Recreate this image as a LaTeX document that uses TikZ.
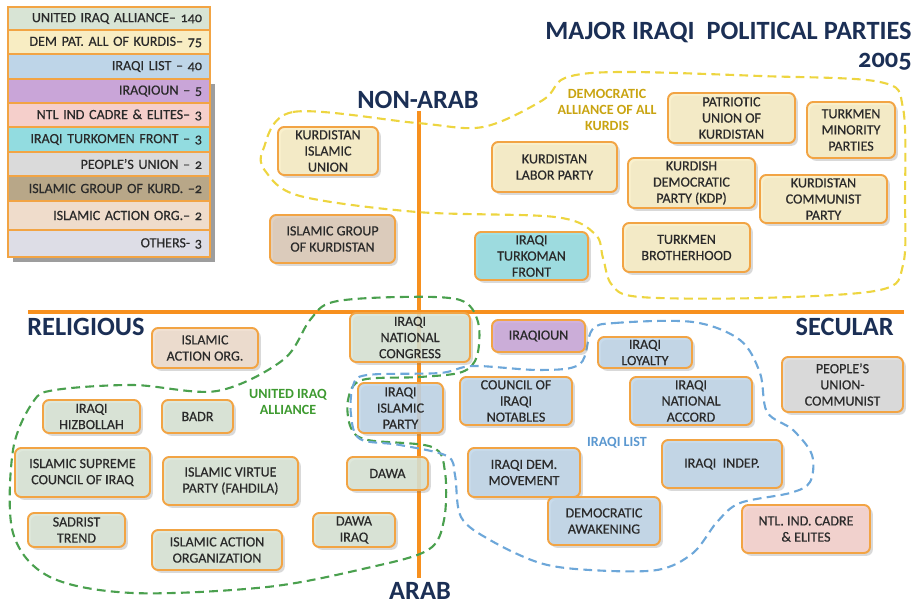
\documentclass[tikz,border=0pt]{standalone}
\usepackage{fontspec}
\setmainfont{Carlito}[Numbers=OldStyle]
\usetikzlibrary{shadows}
\definecolor{navy}{HTML}{1B2F55}
\definecolor{axisorange}{HTML}{F7901E}
\definecolor{boxedge}{HTML}{F2A444}
\definecolor{partytext}{HTML}{2A2A2A}
\definecolor{uiafill}{HTML}{D8E4D5}
\definecolor{kurdfill}{HTML}{F8EDC3}
\definecolor{listfill}{HTML}{BED5E8}
\definecolor{iqnfill}{HTML}{C9A5D8}
\definecolor{ntlfill}{HTML}{F5CFCB}
\definecolor{itffill}{HTML}{92DCE0}
\definecolor{pplfill}{HTML}{DADADA}
\definecolor{igkfill}{HTML}{DCC9B6}
\definecolor{igklegend}{HTML}{B8A788}
\definecolor{iaofill}{HTML}{EFDCCB}
\definecolor{otherfill}{HTML}{DDDDE6}
\definecolor{kurdline}{HTML}{EDD540}
\definecolor{kurdgold}{HTML}{C9A411}
\definecolor{uialine}{HTML}{4AA04E}
\definecolor{uiagreen}{HTML}{3E9A30}
\definecolor{listline}{HTML}{6DA7D9}
\definecolor{listblue}{HTML}{5B98D0}
\newcommand\boxfont{\fontsize{8}{9.2}\selectfont\addfontfeatures{FakeBold=0.5}}
\begin{document}
\begin{tikzpicture}[x=0.02cm,y=-0.02cm,
    sz/.style 2 args={minimum width=#1*0.02cm,minimum height=#2*0.02cm},
    party/.style={draw=boxedge,line width=1.1pt,rounded corners=3.5pt,align=center,
      inner sep=0pt,text=partytext,fill opacity=0.85,text opacity=1,font=\boxfont,
      drop shadow={shadow xshift=1.6pt,shadow yshift=-1.6pt,opacity=0.3}},
    legrow/.style={draw=boxedge,line width=0.9pt,minimum width=202*0.02cm,inner sep=0pt,
      text width=186*0.02cm,align=right,text=partytext,font=\boxfont},
    axislabel/.style={text=navy,font=\bfseries\fontsize{15}{17}\selectfont,inner sep=0pt},
    grouplabel/.style={align=center,inner sep=0pt,font=\bfseries\fontsize{8}{9.2}\selectfont},
    loop/.style={line width=1.2pt,dash pattern=on 5pt off 3pt}]
  \useasboundingbox (0,0) rectangle (919,604);
  %
  % legend
  \fill[black!70,opacity=0.55] (13,84) rectangle (215,262); % shadow
  \foreach \ya/\yb/\col/\txt [count=\i] in {
      7/30/uiafill/UNITED IRAQ ALLIANCE– 140,
      30/54/kurdfill/DEM PAT. ALL OF KURDIS– 75,
      54/79/listfill/IRAQI LIST – 40,
      79/103/iqnfill/IRAQIOUN – 5,
      103/127/ntlfill/NTL IND CADRE \& ELITES– 3,
      127/152/itffill/IRAQI TURKOMEN FRONT – 3,
      152/176/pplfill/PEOPLE’S UNION – 2,
      176/201/igklegend/ISLAMIC GROUP OF KURD. –2,
      201/230/iaofill/ISLAMIC ACTION ORG.– 2,
      230/257/otherfill/OTHERS- 3}
    \node[legrow,fill=\col,minimum height=(\yb-\ya)*0.02cm] (leg\i) at (109,{(\ya+\yb)/2}) {\txt};
  %
  % title
  \node[axislabel,anchor=east] (title) at (912,33) {MAJOR IRAQI\ \ POLITICAL PARTIES};
  \node[axislabel,anchor=east] (year) at (912,62) {2005};
  %
  % axes
  \draw[axisorange,line width=2.4pt] (28,312) -- (904,312);
  \draw[axisorange,line width=2.4pt] (419,111) -- (419,578);
  \node[axislabel] (nonarab) at (418,100) {NON-ARAB};
  \node[axislabel] (arab) at (420,591) {ARAB};
  \node[axislabel,anchor=west] (religious) at (27,327) {RELIGIOUS};
  \node[axislabel,anchor=east] (secular) at (894,327) {SECULAR};
  %
  % group outlines
  \draw[loop,kurdline] plot[smooth cycle,tension=0.55] coordinates {
    (263,150) (293,112) (417,123) (483,127) (543,100) (565,78) (620,72) (760,76)
    (880,82) (903,108) (905,200) (903,265) (880,290) (760,298) (640,297) (612,285)
    (603,258) (595,234) (555,217) (417,212) (300,196) (266,172)};
  \draw[loop,uialine] plot[smooth cycle,tension=0.55] coordinates {
    (333,302) (400,297) (460,300) (478,322) (477,356) (462,372) (420,377) (362,380)
    (348,400) (351,428) (368,440) (432,447) (445,472) (444,520) (428,550) (367,568)
    (267,587) (133,593) (50,577) (13,533) (13,450) (33,402) (55,390) (133,385)
    (217,391) (283,360) (310,320)};
  \draw[loop,listline] plot[smooth cycle,tension=0.55] coordinates {
    (592,330) (615,323) (693,322) (740,340) (760,373) (767,412) (793,430) (812,455)
    (810,482) (790,493) (740,503) (717,522) (693,553) (657,570) (590,570) (540,563)
    (490,540) (461,517) (455,475) (447,456) (400,445) (360,439) (351,415) (353,386)
    (367,375) (440,373) (473,366) (540,370) (580,364)};
  \node[grouplabel,text=kurdgold] (kurdlabel) at (607,110) {DEMOCRATIC\\ALLIANCE OF ALL\\KURDIS};
  \node[grouplabel,text=uiagreen] (uialabel) at (288,402) {UNITED IRAQ\\ALLIANCE};
  \node[grouplabel,text=listblue] (listlabel) at (617,443) {IRAQI LIST};
  %
  % kurdish alliance
  \node[party,fill=kurdfill,sz={100}{48}] (kiu) at (328,151) {KURDISTAN\\ISLAMIC\\UNION};
  \node[party,fill=kurdfill,sz={125}{50}] (klp) at (554.5,167) {KURDISTAN\\LABOR PARTY};
  \node[party,fill=kurdfill,sz={127}{50}] (puk) at (731.5,118) {PATRIOTIC\\UNION OF\\KURDISTAN};
  \node[party,fill=kurdfill,sz={88}{56}] (tmp) at (851,130) {TURKMEN\\MINORITY\\PARTIES};
  \node[party,fill=kurdfill,sz={127}{50}] (kdp) at (691.5,183) {KURDISH\\DEMOCRATIC\\PARTY (KDP)};
  \node[party,fill=kurdfill,sz={127}{48}] (kcp) at (823.5,199) {KURDISTAN\\COMMUNIST\\PARTY};
  \node[party,fill=kurdfill,sz={127}{49}] (tbh) at (686.5,247.5) {TURKMEN\\BROTHERHOOD};
  \node[party,fill=igkfill,sz={125}{48}] (igk) at (332.5,239) {ISLAMIC GROUP\\OF KURDISTAN};
  \node[party,fill=itffill,sz={113}{48}] (itf) at (531.5,256) {IRAQI\\TURKOMAN\\FRONT};
  %
  % united iraq alliance
  \node[party,fill=iaofill,sz={106}{40}] (iao) at (205,348) {ISLAMIC\\ACTION ORG.};
  \node[party,fill=uiafill,sz={120}{49}] (inc) at (410,337.5) {IRAQI\\NATIONAL\\CONGRESS};
  \node[party,fill=uiafill,sz={97}{33}] (hiz) at (91.5,416.5) {IRAQI\\HIZBOLLAH};
  \node[party,fill=uiafill,sz={71}{33}] (badr) at (197.5,416.5) {BADR};
  \node[party,fill=uiafill,sz={135}{49}] (sciri) at (82.5,472.5) {ISLAMIC SUPREME\\COUNCIL OF IRAQ};
  \node[party,fill=uiafill,sz={135}{48}] (fad) at (230.5,481) {ISLAMIC VIRTUE\\PARTY (FAHDILA)};
  \node[party,fill=uiafill,sz={81}{33}] (dawa) at (387.5,473.5) {DAWA};
  \node[party,fill=uiafill,sz={97}{34}] (sadr) at (76.5,530) {SADRIST\\TREND};
  \node[party,fill=uiafill,sz={130}{40}] (iaorg) at (217,550) {ISLAMIC ACTION\\ORGANIZATION};
  \node[party,fill=uiafill,sz={82}{34}] (dawai) at (354,530) {DAWA\\IRAQ};
  %
  % iraqi list
  \node[party,fill=listfill,sz={85}{50}] (iip) at (400.5,408) {IRAQI\\ISLAMIC\\PARTY};
  \node[party,fill=listfill,sz={94}{31}] (loy) at (645,352.5) {IRAQI\\LOYALTY};
  \node[party,fill=listfill,sz={112}{48}] (cin) at (516,401) {COUNCIL OF\\IRAQI\\NOTABLES};
  \node[party,fill=listfill,sz={122}{48}] (ina) at (691,401) {IRAQI\\NATIONAL\\ACCORD};
  \node[party,fill=listfill,sz={112}{49}] (idm) at (524,472.5) {IRAQI DEM.\\MOVEMENT};
  \node[party,fill=listfill,sz={120}{48}] (ind) at (722,464) {IRAQI\ \ INDEP.};
  \node[party,fill=listfill,sz={112}{48}] (dav) at (604,521) {DEMOCRATIC\\AWAKENING};
  %
  % others
  \node[party,fill=iqnfill,sz={93}{32}] (iqn) at (538.5,336) {IRAQIOUN};
  \node[party,fill=pplfill,sz={121}{55}] (puc) at (842.5,384.5) {PEOPLE’S\\UNION-\\COMMUNIST};
  \node[party,fill=ntlfill,sz={128}{48}] (ntl) at (806,529) {NTL. IND. CADRE\\\& ELITES};
\end{tikzpicture}
\end{document}
